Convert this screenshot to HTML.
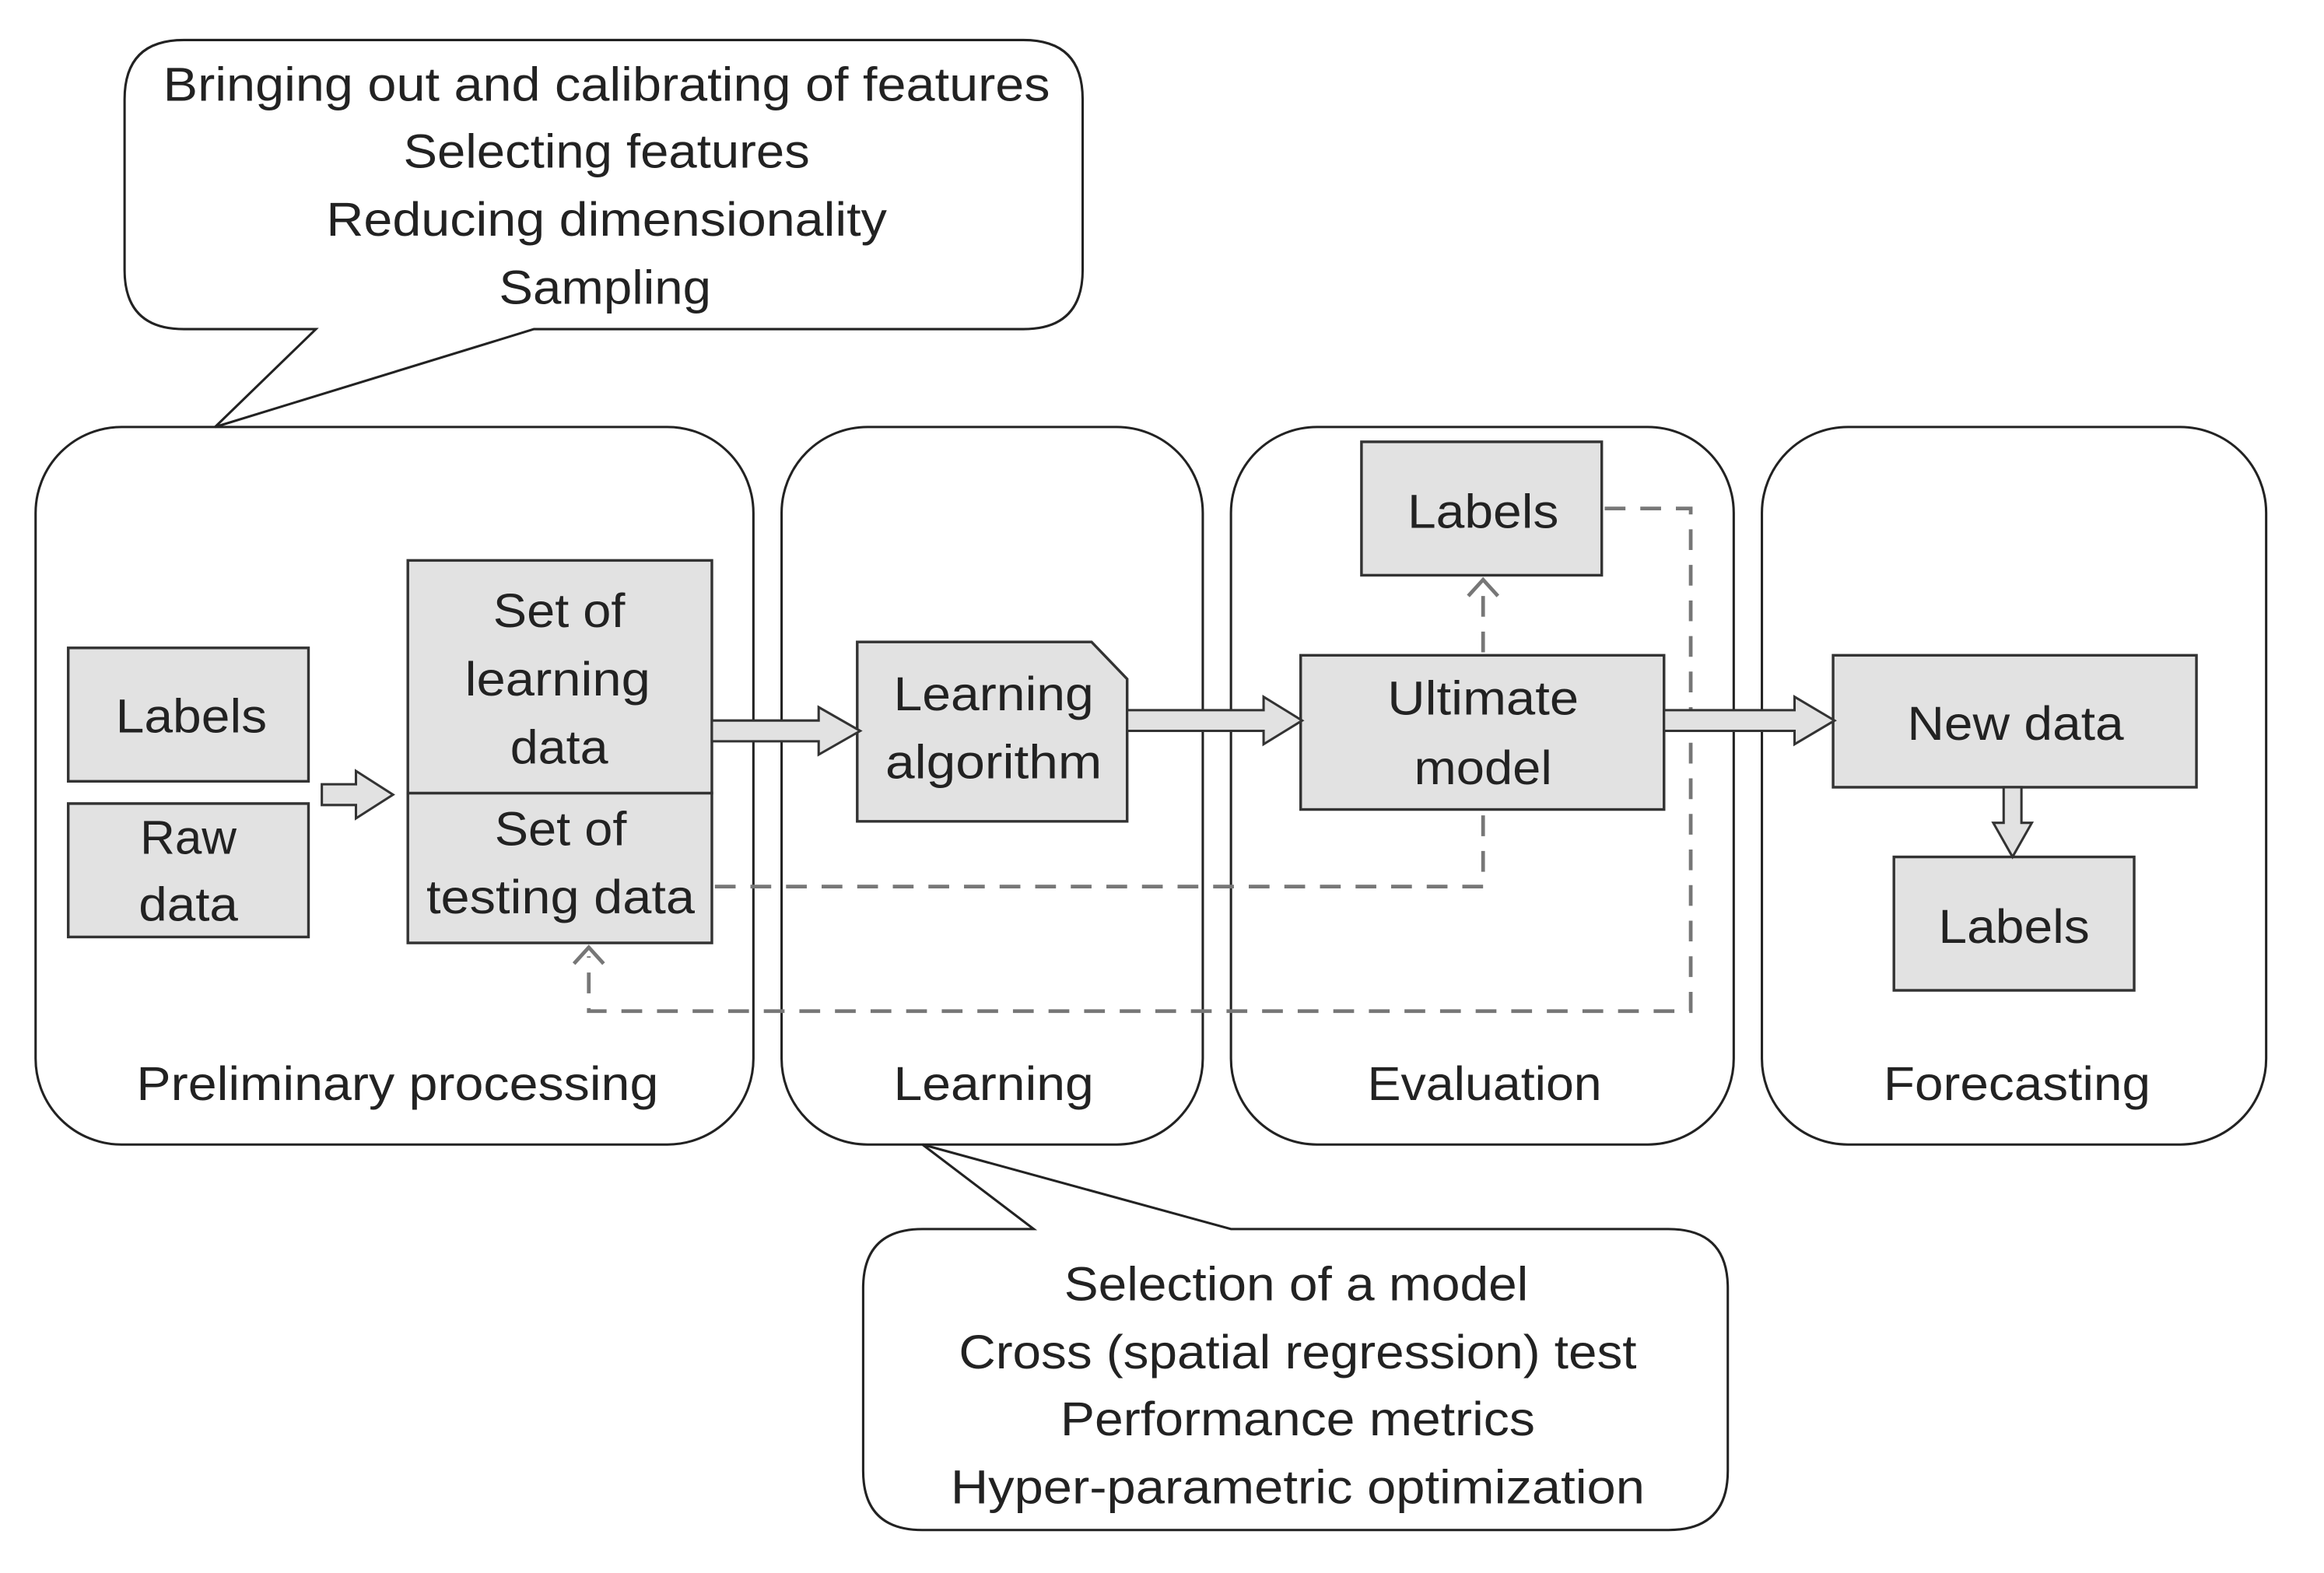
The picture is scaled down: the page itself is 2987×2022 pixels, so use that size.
<!DOCTYPE html>
<html><head><meta charset="utf-8"><style>
html,body{margin:0;padding:0;background:#fff;}
svg{display:block;}
text{font-family:"Liberation Sans",sans-serif;font-size:32px;fill:#222;text-anchor:middle;}
</style></head><body>
<svg width="2987" height="2022" viewBox="0 0 1567 1061" preserveAspectRatio="none" xmlns="http://www.w3.org/2000/svg">
<g fill="none" stroke="#222" stroke-width="1.6">
<path d="M124,27 H690 Q730,27 730,67 V182 Q730,222 690,222 H360 L145,288 L213,222 H124 Q84,222 84,182 V67 Q84,27 124,27 Z" fill="#fff"/>
<rect x="24" y="288" width="484" height="484" rx="58"/>
<rect x="527" y="288" width="284" height="484" rx="58"/>
<rect x="830" y="288" width="339" height="484" rx="58"/>
<rect x="1188" y="288" width="340" height="484" rx="58"/>
<path d="M622,772 L697,829 H622 Q582,829 582,869 V992 Q582,1032 622,1032 H1125 Q1165,1032 1165,992 V869 Q1165,829 1125,829 H830 Z" fill="#fff"/>
</g>
<g fill="none" stroke="#777" stroke-width="2.5" stroke-dasharray="14 10">
<path d="M482,598 H1000 V548"/>
<path d="M1000,440 V398"/>
<path d="M1082,343 H1140 V682 H397 V645"/>
</g>
<g fill="none" stroke="#777" stroke-width="2.5">
<path d="M990,402 L1000,391 L1010,402"/>
<path d="M387,650 L397,639 L407,650"/>
</g>
<g fill="#e2e2e2" stroke="#333" stroke-width="1.8">
<rect x="46" y="437" width="162" height="90"/>
<rect x="46" y="542" width="162" height="90"/>
<rect x="275" y="378" width="205" height="157"/>
<rect x="275" y="535" width="205" height="101"/>
<path d="M578,433 H736 L760,458 V554 H578 Z"/>
<rect x="877" y="442" width="245" height="104"/>
<rect x="918" y="298" width="162" height="90"/>
<rect x="1236" y="442" width="245" height="89"/>
<rect x="1277" y="578" width="162" height="90"/>
</g>
<g fill="#e2e2e2" stroke="#333" stroke-width="1.6">
<path d="M217,529 H240 V520 L265,536 L240,552 V543 H217 Z"/>
<path d="M480,486 H552 V477 L580,493 L552,509 V500 H480 Z"/>
<path d="M760,479 H852 V470 L878,486 L852,502 V493 H760 Z"/>
<path d="M1122,479 H1210 V470 L1237,486 L1210,502 V493 H1122 Z"/>
<path d="M1351,531 V555 H1344 L1357,578 L1370,555 H1363 V531 Z"/>
</g>
<g>
<text x="409" y="68" textLength="598" lengthAdjust="spacingAndGlyphs">Bringing out and calibrating of features</text>
<text x="409" y="113" textLength="274" lengthAdjust="spacingAndGlyphs">Selecting features</text>
<text x="409" y="159" textLength="378" lengthAdjust="spacingAndGlyphs">Reducing dimensionality</text>
<text x="408" y="205" textLength="143" lengthAdjust="spacingAndGlyphs">Sampling</text>
<text x="129" y="494" textLength="102" lengthAdjust="spacingAndGlyphs">Labels</text>
<text x="127" y="576" textLength="65" lengthAdjust="spacingAndGlyphs">Raw</text>
<text x="127" y="621" textLength="67" lengthAdjust="spacingAndGlyphs">data</text>
<text x="377" y="423" textLength="89" lengthAdjust="spacingAndGlyphs">Set of</text>
<text x="376" y="469" textLength="125" lengthAdjust="spacingAndGlyphs">learning</text>
<text x="377" y="515" textLength="66" lengthAdjust="spacingAndGlyphs">data</text>
<text x="378" y="570" textLength="89" lengthAdjust="spacingAndGlyphs">Set of</text>
<text x="378" y="616" textLength="181" lengthAdjust="spacingAndGlyphs">testing data</text>
<text x="670" y="479" textLength="135" lengthAdjust="spacingAndGlyphs">Learning</text>
<text x="670" y="525" textLength="146" lengthAdjust="spacingAndGlyphs">algorithm</text>
<text x="1000" y="482" textLength="129" lengthAdjust="spacingAndGlyphs">Ultimate</text>
<text x="1000" y="529" textLength="93" lengthAdjust="spacingAndGlyphs">model</text>
<text x="1000" y="356" textLength="102" lengthAdjust="spacingAndGlyphs">Labels</text>
<text x="1359" y="499" textLength="146" lengthAdjust="spacingAndGlyphs">New data</text>
<text x="1358" y="636" textLength="102" lengthAdjust="spacingAndGlyphs">Labels</text>
<text x="268" y="742" textLength="352" lengthAdjust="spacingAndGlyphs">Preliminary processing</text>
<text x="670" y="742" textLength="135" lengthAdjust="spacingAndGlyphs">Learning</text>
<text x="1001" y="742" textLength="158" lengthAdjust="spacingAndGlyphs">Evaluation</text>
<text x="1360" y="742" textLength="180" lengthAdjust="spacingAndGlyphs">Forecasting</text>
<text x="874" y="877" textLength="313" lengthAdjust="spacingAndGlyphs">Selection of a model</text>
<text x="875" y="923" textLength="457" lengthAdjust="spacingAndGlyphs">Cross (spatial regression) test</text>
<text x="875" y="968" textLength="320" lengthAdjust="spacingAndGlyphs">Performance metrics</text>
<text x="875" y="1014" textLength="468" lengthAdjust="spacingAndGlyphs">Hyper-parametric optimization</text>
</g>
</svg>
</body></html>
